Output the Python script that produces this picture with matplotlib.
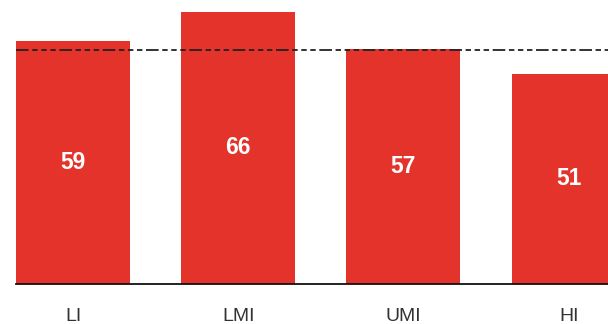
import matplotlib
matplotlib.use("Agg")
import matplotlib.pyplot as plt

categories = ["LI", "LMI", "UMI", "HI"]
values = [59, 66, 57, 51]
reference_value = 57

plt.rcParams['font.family'] = ['Liberation Sans', 'DejaVu Sans']

fig = plt.figure(figsize=(6.08, 3.24), dpi=100)
ax = fig.add_axes([16/608, 40/324, 592/608, 284/324])

x = list(range(len(categories)))
bars = ax.bar(x, values, width=0.69, color='#E3332A', zorder=2)

for xi, v in zip(x, values):
    ax.text(xi, v / 2, str(v), ha='center', va='center', color='white',
            fontsize=16.5, fontweight='bold', zorder=3)

ax.axhline(reference_value - 0.3, color='#222222', lw=1.3,
           linestyle=(0, (7, 2, 3, 2, 3, 2, 3, 2)), zorder=4)

ax.set_xlim(-0.345, 3.238)
ax.set_ylim(0, 68.9)
ax.set_xticks(x)
ax.set_xticklabels(categories, fontsize=14, color='#333333')
ax.tick_params(axis='x', length=0, pad=17)
ax.set_yticks([])
for s in ['top', 'right', 'left']:
    ax.spines[s].set_visible(False)
ax.spines['bottom'].set_color('#111111')
ax.spines['bottom'].set_linewidth(1.3)

fig.savefig('out.png', dpi=100)
